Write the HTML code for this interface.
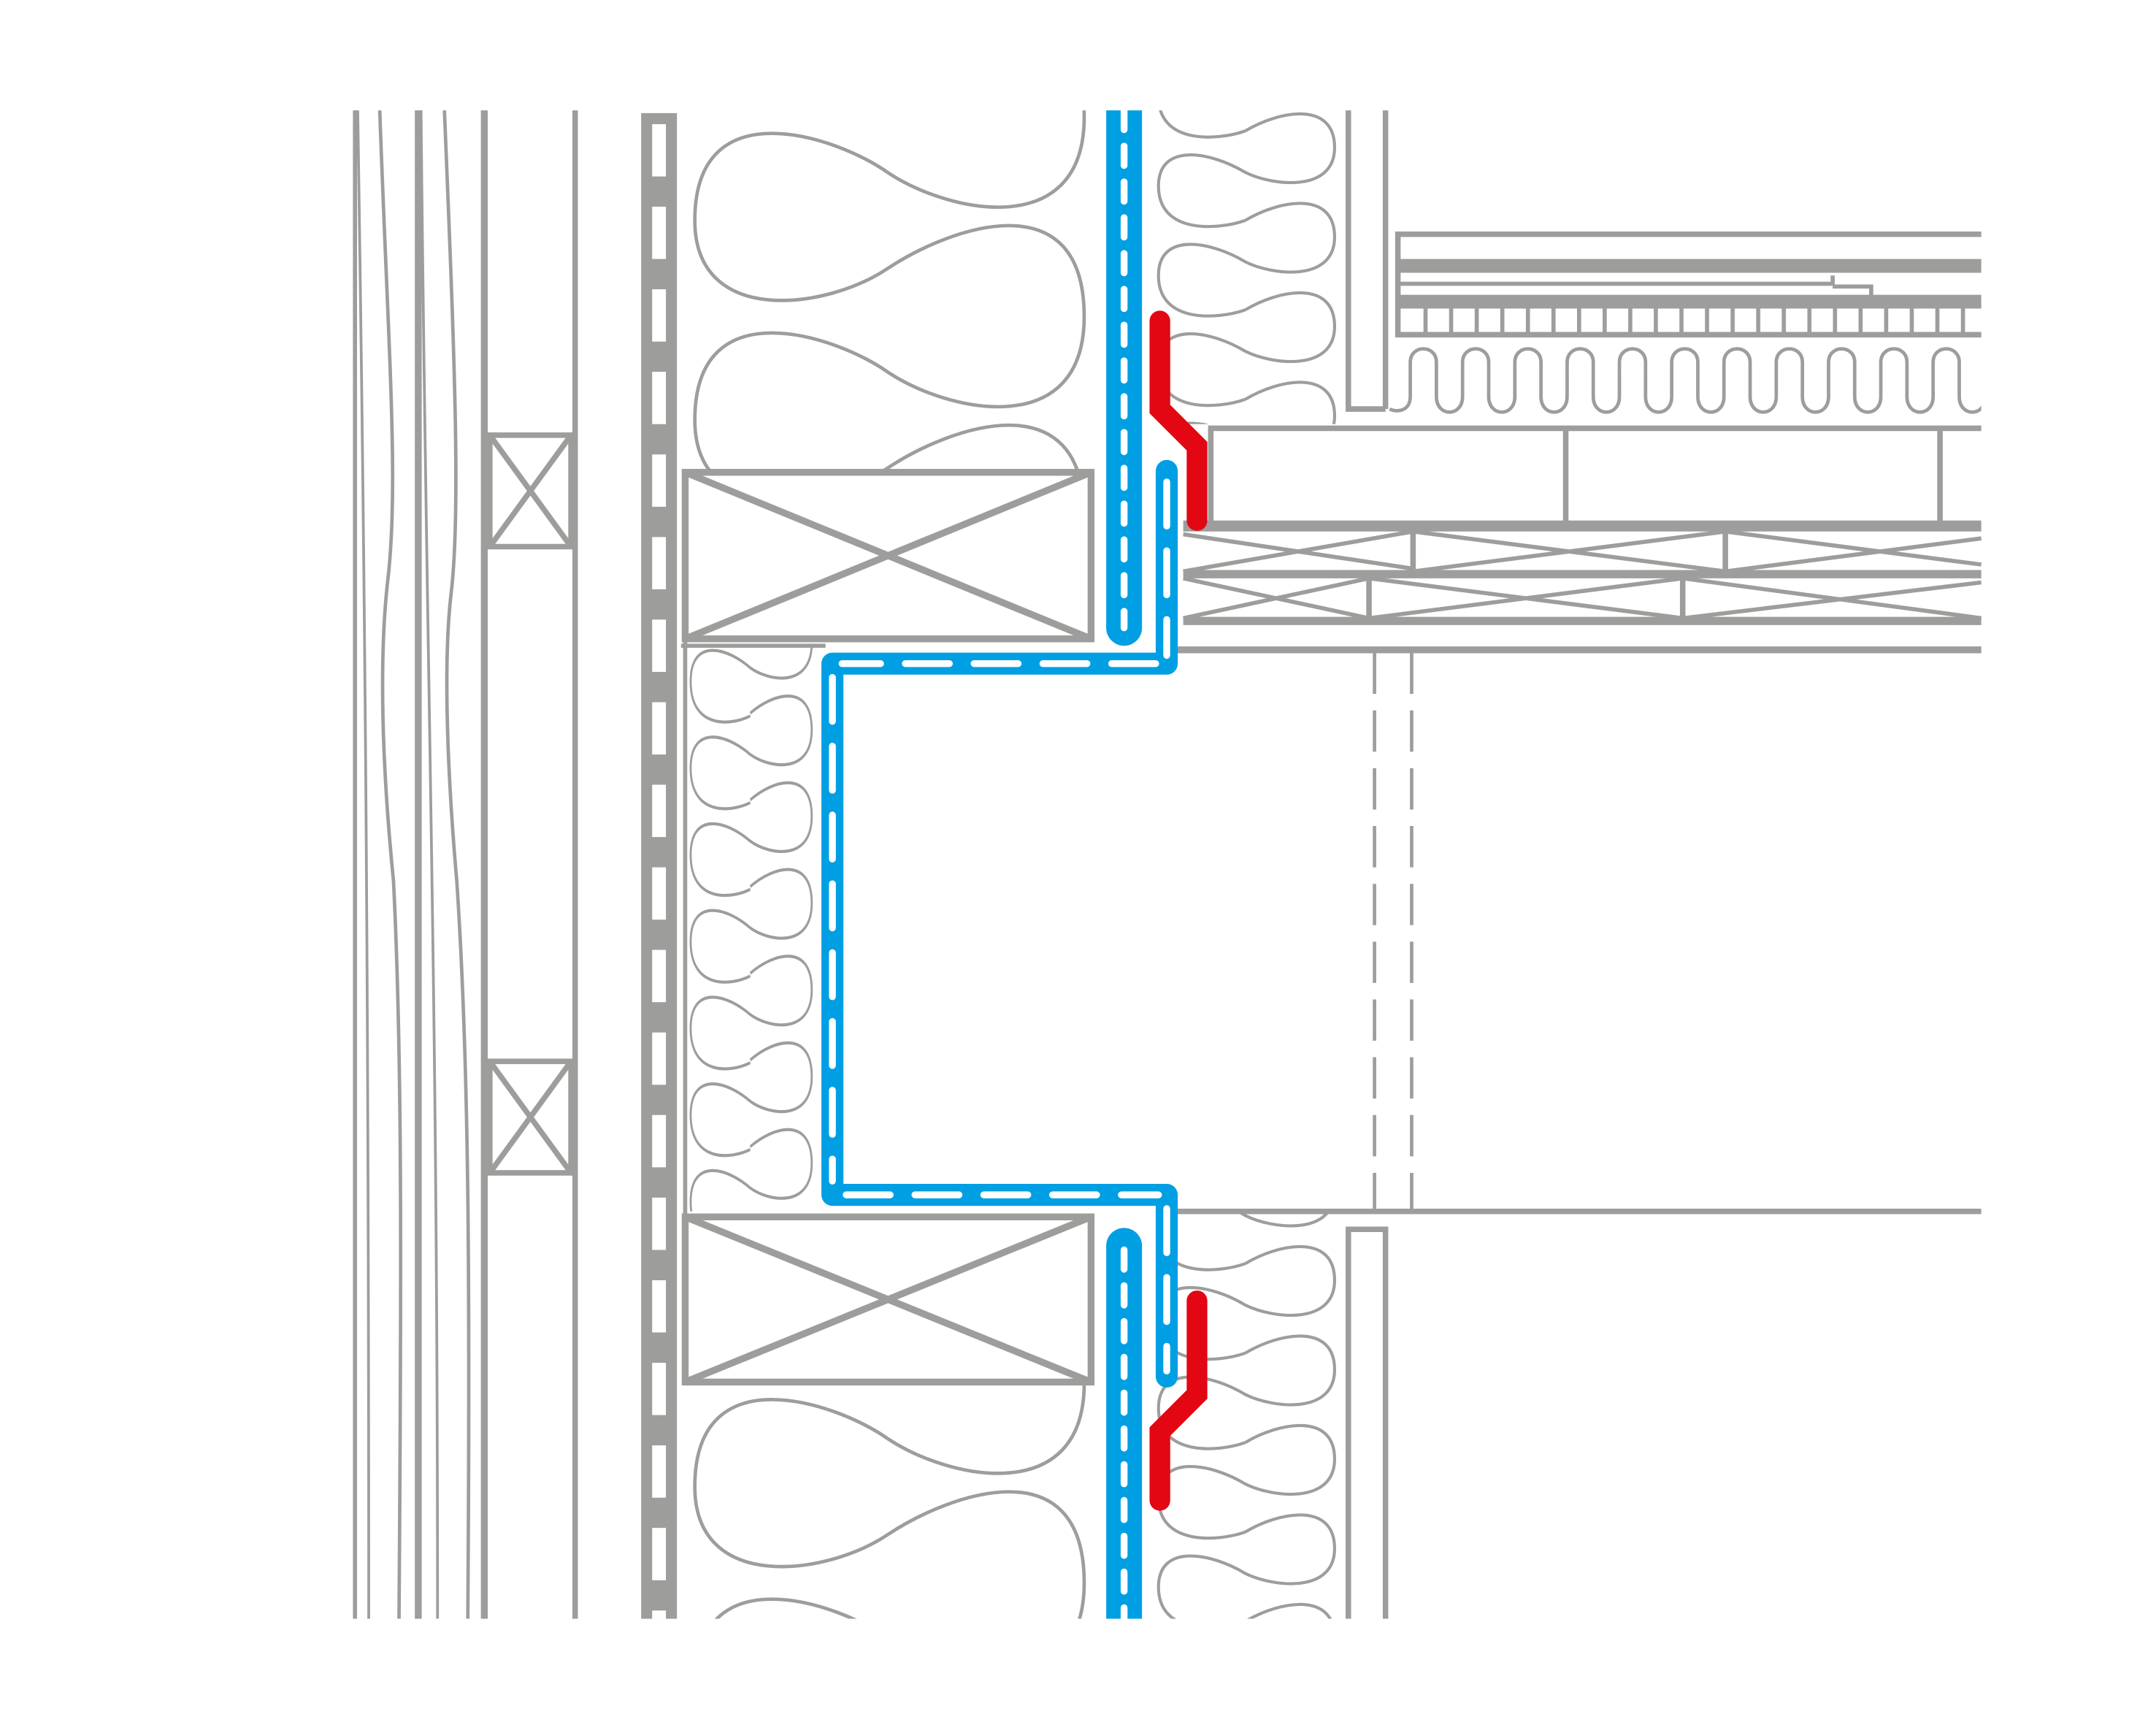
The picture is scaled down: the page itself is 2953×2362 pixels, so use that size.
<!DOCTYPE html>
<html><head><meta charset="utf-8"><style>html,body{margin:0;padding:0;background:#fff;overflow:hidden;width:2953px;height:2362px}svg{display:block}</style></head>
<body>
<svg width="2953" height="2362" viewBox="0 0 1567 1253" xmlns="http://www.w3.org/2000/svg" fill="none" stroke="#9d9d9c" stroke-width="3">
<defs>
 <path id="big" d="M645,0 C610,-25 505,-62 505,35 C505,112 600,100 645,70 C690,40 788,5 788,105 C788,195 690,175 645,145" stroke-width="2.5"/>
 <path id="sm" d="M905,0 C930,-15 970,-22 970,12 C970,45 925,40 905,30 C880,15 842,8 842,40 C842,75 885,72 905,65" stroke-width="2.2"/>
 <clipPath id="c1"><rect x="495" y="80" width="300" height="262"/></clipPath>
 <clipPath id="c2"><rect x="495" y="1006" width="300" height="170"/></clipPath>
 <clipPath id="c3"><rect x="835" y="80" width="140" height="228"/></clipPath>
 <clipPath id="c4"><rect x="835" y="882" width="140" height="294"/></clipPath>
 <clipPath id="c5"><rect x="499" y="470" width="96" height="410"/></clipPath>
 <clipPath id="c6"><rect x="1008" y="246" width="432" height="60"/></clipPath>
 <pattern id="tick" x="1016" y="0" width="18.6" height="20" patternUnits="userSpaceOnUse"><rect x="0" y="0" width="3" height="20" fill="#9d9d9c" stroke="none"/></pattern>
</defs>

<line x1="258" y1="80" x2="258" y2="1176" stroke-width="3"/>
<path d="M260,80 C265,400 268,700 268,1176" stroke-width="2"/>
<path d="M276,80 C282,250 290,350 282,420 C275,480 278,560 286,640 C292,760 292,900 290,1176" stroke-width="2.5"/>
<line x1="304" y1="80" x2="304" y2="1176" stroke-width="5"/>
<path d="M306,80 C310,500 318,700 318,1176" stroke-width="2"/>
<path d="M323,80 C330,250 335,370 328,430 C322,480 325,560 332,640 C340,760 342,900 340,1176" stroke-width="2.5"/>
<line x1="352" y1="80" x2="352" y2="1176" stroke-width="5"/>
<line x1="418" y1="80" x2="418" y2="1176" stroke-width="4"/>
<g stroke-width="4">
<rect x="356" y="316" width="59" height="81" fill="#fff"/><path d="M356,316 L415,397 M415,316 L356,397"/>
<rect x="356" y="771" width="59" height="81" fill="#fff"/><path d="M356,771 L415,852 M415,771 L356,852"/>
</g>

<rect x="466" y="82" width="26" height="1094" fill="#9d9d9c" stroke="none"/>
<line x1="479" y1="90" x2="479" y2="1176" stroke="#fff" stroke-width="10" stroke-dasharray="38 22"/>

<g clip-path="url(#c1)"><use href="#big" y="-20"/><use href="#big" y="125"/><use href="#big" y="270"/></g>
<g clip-path="url(#c2)"><use href="#big" y="900"/><use href="#big" y="1045"/><use href="#big" y="1190"/></g>

<g stroke-width="5">
<rect x="498" y="343" width="295" height="121"/><path d="M498,343 L793,464 M793,343 L498,464"/>
<rect x="498" y="884" width="295" height="120"/><path d="M498,884 L793,1004 M793,884 L498,1004"/>
</g>
<line x1="495" y1="469" x2="600" y2="469"/>
<line x1="498" y1="464" x2="498" y2="884"/>

<g clip-path="url(#c5)">
 <g transform="translate(-76.9,0) scale(0.6875,1)">
  <use href="#sm" y="392"/><use href="#sm" y="455"/><use href="#sm" y="518"/><use href="#sm" y="581"/><use href="#sm" y="644"/><use href="#sm" y="707"/><use href="#sm" y="770"/><use href="#sm" y="833"/>
 </g>
</g>
<g clip-path="url(#c3)"><use href="#sm" y="30"/><use href="#sm" y="95"/><use href="#sm" y="160"/><use href="#sm" y="225"/><use href="#sm" y="290"/></g>
<g clip-path="url(#c4)"><use href="#sm" y="853"/><use href="#sm" y="918"/><use href="#sm" y="983"/><use href="#sm" y="1048"/><use href="#sm" y="1113"/><use href="#sm" y="1178"/></g>

<g stroke-width="4">
<path d="M980,80 V297 H1007 M1007,80 V297"/>
<path d="M980,1176 V893 H1007 V1176"/>
</g>

<g stroke-width="4">
<path d="M1440,170 H1016 V243 H1440"/>
<line x1="1016" y1="193" x2="1440" y2="193" stroke-width="10"/>
<line x1="1016" y1="219" x2="1440" y2="219" stroke-width="10"/>
<path d="M1016,206 H1332 V200 M1332,208 H1360 V216" stroke-width="3"/>
</g>
<rect x="1020" y="224" width="420" height="17" fill="url(#tick)" stroke="none"/>
<g clip-path="url(#c6)" stroke-width="2.5">
<path d="M1010,297 C1016,300 1025,298 1025,288 V263 C1025,250 1044,250 1044,263 V288 C1044,303 1063,303 1063,288 V263 C1063,250 1082,250 1082,263 V288 C1082,303 1101,303 1101,288 V263 C1101,250 1120,250 1120,263 V288 C1120,303 1139,303 1139,288 V263 C1139,250 1158,250 1158,263 V288 C1158,303 1177,303 1177,288 V263 C1177,250 1196,250 1196,263 V288 C1196,303 1215,303 1215,288 V263 C1215,250 1234,250 1234,263 V288 C1234,303 1253,303 1253,288 V263 C1253,250 1272,250 1272,263 V288 C1272,303 1291,303 1291,288 V263 C1291,250 1310,250 1310,263 V288 C1310,303 1329,303 1329,288 V263 C1329,250 1348,250 1348,263 V288 C1348,303 1367,303 1367,288 V263 C1367,250 1386,250 1386,263 V288 C1386,303 1405,303 1405,288 V263 C1405,250 1424,250 1424,263 V288 C1424,303 1443,303 1443,288 V263"/>
</g>
<g stroke-width="4">
<path d="M1440,311 H880 V381"/>
<line x1="1138" y1="311" x2="1138" y2="381"/>
<line x1="1410" y1="311" x2="1410" y2="381"/>
<line x1="860" y1="382" x2="1440" y2="382" stroke-width="8"/>
<line x1="860" y1="417" x2="1440" y2="417" stroke-width="6"/>
<line x1="860" y1="451" x2="1440" y2="451" stroke-width="6"/>
<line x1="855" y1="472" x2="1440" y2="472" stroke-width="5"/>
<line x1="1027" y1="385" x2="1027" y2="415"/><line x1="1254" y1="385" x2="1254" y2="415"/>
<line x1="995" y1="420" x2="995" y2="449"/><line x1="1223" y1="420" x2="1223" y2="449"/>
</g>
<g stroke-width="3">
<path d="M860,415 L1027,386 L1254,415 L1440,391 M1027,415 L1254,386 L1440,410"/>
<path d="M860,388 L1027,413"/>
<path d="M860,420 L995,449 L1223,420 L1440,449 M860,449 L995,420 L1223,449 L1440,423"/>
</g>
<g stroke-width="2.5" stroke-dasharray="30 12">
<line x1="999" y1="474" x2="999" y2="880"/><line x1="1026" y1="474" x2="1026" y2="880"/>
</g>
<line x1="853" y1="880" x2="1440" y2="880" stroke-width="4"/>

<g stroke="#009fe3">
<line x1="817" y1="80" x2="817" y2="456" stroke-width="26"/>
<circle cx="817" cy="456" r="13" fill="#009fe3" stroke="none"/>
<line x1="817" y1="80" x2="817" y2="456" stroke="#fff" stroke-width="5" stroke-linecap="round" stroke-dasharray="14 12"/>
<line x1="817" y1="905" x2="817" y2="1176" stroke-width="26"/>
<circle cx="817" cy="905" r="13" fill="#009fe3" stroke="none"/>
<line x1="817" y1="908" x2="817" y2="1176" stroke="#fff" stroke-width="5" stroke-linecap="round" stroke-dasharray="14 12"/>
</g>
<path d="M848,342 V482 H605 V868 H848 V1000" stroke="#009fe3" stroke-width="16" stroke-linejoin="round" stroke-linecap="round"/>
<path d="M848,350 V476 M840,482 H612 M605,492 V858 M615,868 H842 M848,878 V996" stroke="#fff" stroke-width="5" stroke-linecap="round" stroke-dasharray="32 18"/>

<g stroke="#e30613" stroke-width="15" stroke-linecap="round" stroke-linejoin="miter">
<path d="M843,233 V297 L870,324 V378"/>
<path d="M870,945 V1013 L843,1040 V1090"/>
</g>
</svg>
</body></html>
